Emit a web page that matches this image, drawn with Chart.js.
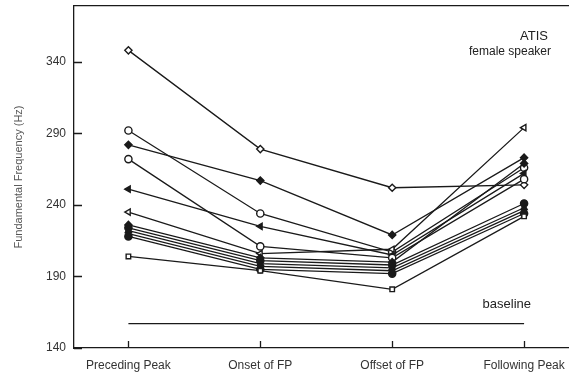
<!DOCTYPE html>
<html>
<head>
<meta charset="utf-8">
<script src="https://cdn.jsdelivr.net/npm/chart.js@4/dist/chart.umd.min.js"></script>
<style>
  html, body { margin: 0; padding: 0; background: #fff; overflow: hidden; }
  canvas { display: block; }
</style>
</head>
<body>
<canvas id="f0Chart" width="574" height="377"></canvas>
<script>
// Категории и значения (Гц)
const categories = ['Preceding Peak', 'Onset of FP', 'Offset of FP', 'Following Peak'];
const yTicks = [140, 190, 240, 290, 340];
const baseline = 157;

const s1 = [348, 279, 252, 254];
const s2 = [282, 257, 219, 273];
const s3 = [292, 234, 207, 266];
const s4 = [251, 225, 205, 262];
const s5 = [272, 211, 203, 258];
const s6 = [235, 206, 209, 294];
const s7 = [226, 203, 200, 269];
const s8 = [224, 201, 198, 241];
const s9 = [222, 199, 196, 238];
const s10 = [220, 197, 194, 236];
const s11 = [218, 195, 192, 234];
const s12 = [204, 194, 181, 232];

const ink = '#1a1a1a';
const font = '"Liberation Sans", Arial, sans-serif';

function series(values, style, filled, rotation) {
    return {
        data: values.map((v, i) => ({ x: i, y: v })),
        borderColor: ink,
        borderWidth: 1.3,
        pointStyle: style,
        pointRotation: rotation || 0,
        pointRadius: style === 'rect' ? 3.2 : 3.6,
        pointBorderWidth: 1.4,
        pointBorderColor: ink,
        pointBackgroundColor: filled ? ink : '#fff',
        tension: 0
    };
}

const datasets = [
    { data: [{ x: 0, y: baseline }, { x: 3, y: baseline }], borderColor: ink, borderWidth: 1.3, pointRadius: 0 },
    series(s12, 'rect', false),
    series(s11, 'circle', true),
    series(s10, 'rect', true),
    series(s9, 'triangle', true),
    series(s8, 'circle', true),
    series(s7, 'rectRot', true),
    series(s6, 'triangle', false, -90),
    series(s5, 'circle', false),
    series(s4, 'triangle', true, -90),
    series(s3, 'circle', false),
    series(s2, 'rectRot', true),
    series(s1, 'rectRot', false)
];

// Внутренние засечки и подписи на поле графика
const extras = {
    id: 'extras',
    afterDraw(chart) {
        const c = chart.ctx;
        const a = chart.chartArea;
        const xs = chart.scales.x, ys = chart.scales.y;
        c.save();
        c.strokeStyle = ink;
        c.lineWidth = 1.3;
        c.beginPath();
        yTicks.forEach(v => {
            const py = Math.round(ys.getPixelForValue(v)) + 0.5;
            c.moveTo(a.left, py); c.lineTo(a.left + 8, py);
        });
        categories.forEach((_, i) => {
            const px = Math.round(xs.getPixelForValue(i)) + 0.5;
            c.moveTo(px, a.bottom); c.lineTo(px, a.bottom - 7);
        });
        c.stroke();
        c.fillStyle = '#222';
        c.textAlign = 'right';
        c.textBaseline = 'middle';
        c.font = '13px ' + font;
        c.fillText('ATIS', 548, 36);
        c.font = '12px ' + font;
        c.fillText('female speaker', 551, 52);
        c.font = '13px ' + font;
        c.fillText('baseline', 531, 304);
        c.restore();
    }
};

const noPad = s => { s.paddingLeft = 0; s.paddingRight = 0; s.paddingTop = 0; s.paddingBottom = 0; };

new Chart(document.getElementById('f0Chart'), {
    type: 'line',
    data: { datasets },
    plugins: [extras],
    options: {
        responsive: false,
        animation: false,
        layout: { padding: 0 },
        plugins: { legend: { display: false }, tooltip: { enabled: false } },
        scales: {
            x: {
                type: 'linear',
                min: -0.4125,
                max: 3.3375,
                afterBuildTicks: s => { s.ticks = categories.map((_, i) => ({ value: i })); },
                afterFit: s => { s.height = 29; noPad(s); },
                grid: { display: false, drawTicks: false },
                border: { display: true, color: ink, width: 1.3 },
                ticks: {
                    callback: v => categories[v],
                    color: '#333',
                    padding: 10,
                    maxRotation: 0,
                    font: { family: font, size: 12 }
                }
            },
            xTop: {
                type: 'linear',
                position: 'top',
                min: -0.4125,
                max: 3.3375,
                afterFit: s => { s.height = 6; noPad(s); },
                grid: { display: false, drawTicks: false },
                border: { display: true, color: ink, width: 1.3 },
                ticks: { display: false }
            },
            y: {
                min: 140,
                max: 379,
                afterBuildTicks: s => { s.ticks = yTicks.map(v => ({ value: v })); },
                afterFit: s => { s.width = 74; noPad(s); },
                grid: { display: false, drawTicks: false },
                border: { display: true, color: ink, width: 1.3 },
                title: {
                    display: true,
                    text: 'Fundamental Frequency (Hz)',
                    color: '#555',
                    padding: { top: 12, bottom: 0 },
                    font: { family: font, size: 11 }
                },
                ticks: {
                    color: '#333',
                    padding: 8,
                    font: { family: font, size: 12 }
                }
            }
        }
    }
});
</script>
</body>
</html>
